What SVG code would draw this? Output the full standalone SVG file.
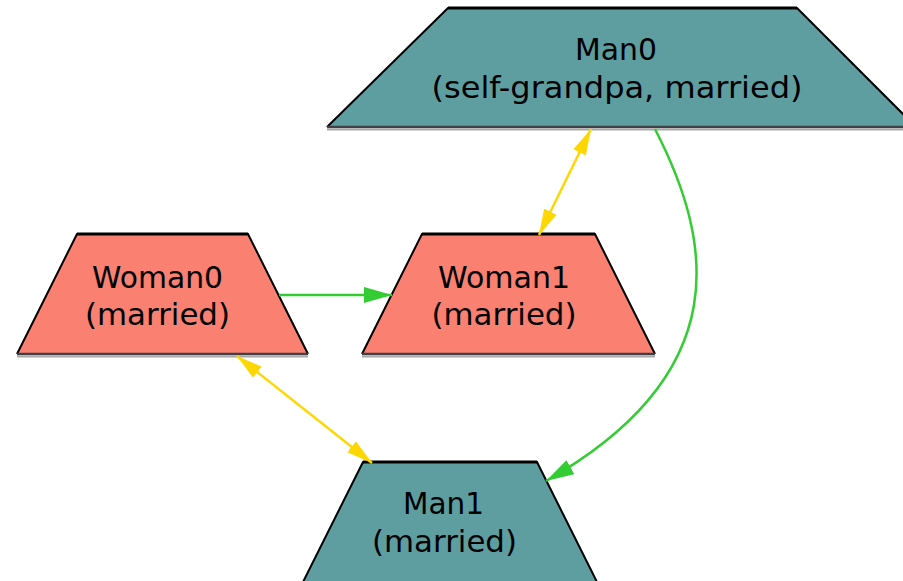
<svg xmlns="http://www.w3.org/2000/svg" width="903" height="581" viewBox="0 0 903 581">
  <style>
    .man { fill: #5F9EA0; }
    .woman { fill: #FA8072; }
    .rim { fill: none; stroke: #000; stroke-width: 2; stroke-linejoin: miter; }
    .top { stroke: #000; stroke-width: 3; }
    .base { stroke: #404048; stroke-width: 2.5; }
    .shade { stroke: #a8a8a8; stroke-width: 2; }
    .label { font-family: "DejaVu Sans", "Liberation Sans", sans-serif; font-size: 30px; fill: #000; text-anchor: middle; }
    .marry { fill: none; stroke: #FFD700; stroke-width: 2.5; marker-start: url(#headGold); marker-end: url(#headGold); }
    .child { fill: none; stroke: #33CC33; stroke-width: 2.5; marker-end: url(#headGreen); }
  </style>
  <defs>
    <marker id="headGold" markerUnits="userSpaceOnUse" markerWidth="28" markerHeight="16" refX="26" refY="7" orient="auto-start-reverse">
      <path d="M0,0 L26,7 L0,14 Z" fill="#FFD700"/>
    </marker>
    <marker id="headGreen" markerUnits="userSpaceOnUse" markerWidth="30" markerHeight="18" refX="28" refY="8" orient="auto">
      <path d="M0,0 L28,8 L0,16 Z" fill="#33CC33"/>
    </marker>
  </defs>

  <rect width="903" height="581" fill="#fff"/>

  <g id="Man0">
    <polygon class="man" points="448,8 797,8 916,127 327,127"/>
    <polyline class="rim" points="327,127 448,8 797,8 916,127"/>
    <line class="top" x1="448" y1="8" x2="797" y2="8"/>
    <line class="base" x1="327" y1="127" x2="903" y2="127"/>
    <line class="shade" x1="327" y1="129.5" x2="903" y2="129.5"/>
    <text class="label" x="616" y="60" textLength="82" lengthAdjust="spacingAndGlyphs">Man0</text>
    <text class="label" x="617" y="98" textLength="371" lengthAdjust="spacingAndGlyphs">(self-grandpa, married)</text>
  </g>

  <g id="Woman0">
    <polygon class="woman" points="77,234 248,234 308,354 17,354"/>
    <polyline class="rim" points="17,354 77,234 248,234 308,354"/>
    <line class="top" x1="77" y1="234" x2="248" y2="234"/>
    <line class="base" x1="17" y1="354" x2="308" y2="354"/>
    <line class="shade" x1="17" y1="356.5" x2="308" y2="356.5"/>
    <text class="label" x="157.5" y="288" textLength="131" lengthAdjust="spacingAndGlyphs">Woman0</text>
    <text class="label" x="157.5" y="325" textLength="145" lengthAdjust="spacingAndGlyphs">(married)</text>
  </g>

  <g id="Woman1">
    <polygon class="woman" points="422,234 595,234 655,354 362,354"/>
    <polyline class="rim" points="362,354 422,234 595,234 655,354"/>
    <line class="top" x1="422" y1="234" x2="595" y2="234"/>
    <line class="base" x1="362" y1="354" x2="655" y2="354"/>
    <line class="shade" x1="362" y1="356.5" x2="655" y2="356.5"/>
    <text class="label" x="504" y="288" textLength="132" lengthAdjust="spacingAndGlyphs">Woman1</text>
    <text class="label" x="504" y="325" textLength="145" lengthAdjust="spacingAndGlyphs">(married)</text>
  </g>

  <g id="Man1">
    <polygon class="man" points="363,462 537,462 606,600 294,600"/>
    <polyline class="rim" points="294,600 363,462 537,462 606,600"/>
    <line class="top" x1="363" y1="462" x2="537" y2="462"/>
    <text class="label" x="443.5" y="514" textLength="81" lengthAdjust="spacingAndGlyphs">Man1</text>
    <text class="label" x="444.5" y="552" textLength="145" lengthAdjust="spacingAndGlyphs">(married)</text>
  </g>

  <g id="connectors">
    <path class="marry" d="M591,129 L539,235"/>
    <path class="marry" d="M237,356 L372,463"/>
    <path class="child" d="M279,295 L392,295"/>
    <path class="child" d="M655,129 C712,240 738,372 546,481"/>
  </g>
</svg>
